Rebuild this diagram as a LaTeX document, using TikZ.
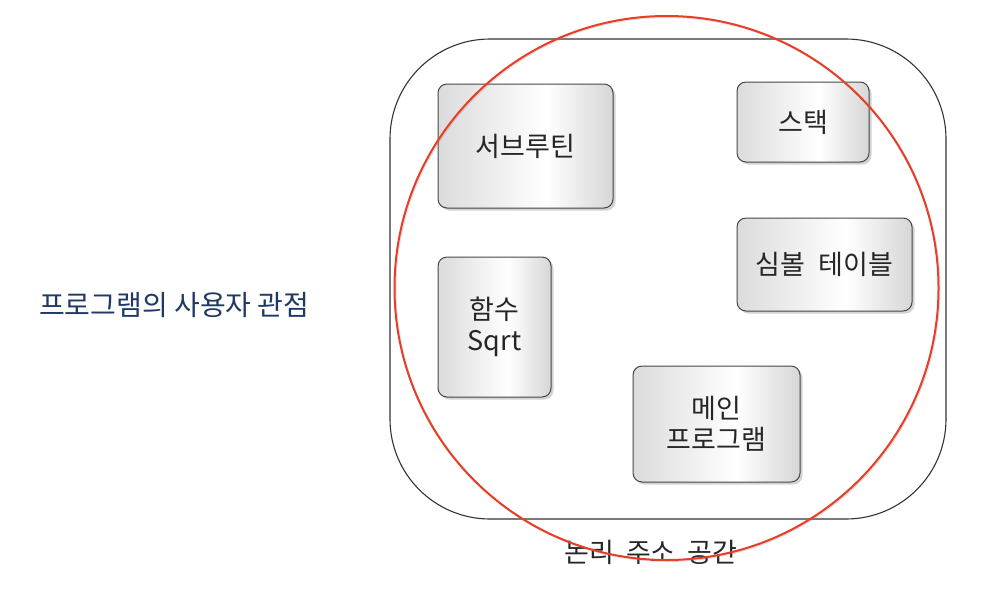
\documentclass[tikz,border=0pt]{standalone}
\usepackage{fontspec}
\setmainfont{Noto Sans CJK KR}
\usetikzlibrary{shadows,shapes.geometric}
\definecolor{navy}{RGB}{31,56,100}
\definecolor{redline}{RGB}{232,62,40}
\definecolor{boxedge}{RGB}{70,70,70}
\pgfdeclarehorizontalshading{boxshade}{100bp}{color(0bp)=(gray!28); color(25bp)=(gray!28); color(56bp)=(white); color(75bp)=(gray!32); color(100bp)=(gray!32)}
\tikzset{
  membox/.style={draw=boxedge, line width=1pt, rounded corners=9pt, shading=boxshade,
    drop shadow={shadow xshift=2.5pt, shadow yshift=-2.5pt, opacity=0.35, fill=gray},
    inner sep=0pt, align=center, font=\fontsize{27}{31}\selectfont, text=black!85},
  outerbox/.style={draw=black!80, line width=1.1pt, rounded corners=100pt, inner sep=0pt},
  redcirc/.style={draw=redline, line width=2pt, circle, inner sep=0pt,
    drop shadow={shadow xshift=1pt, shadow yshift=-1pt, opacity=0.25, fill=none, draw=gray}}
}
\begin{document}
\begin{tikzpicture}[x=1pt,y=-1pt]
\useasboundingbox (0,0) rectangle (990,598);
\node[outerbox, minimum width=556pt, minimum height=480pt] (outer) at (668,279) {};
\node[membox, minimum width=175pt, minimum height=124pt] (sub) at (525.5,146) {서브루틴};
\node[membox, minimum width=132pt, minimum height=80pt] (stack) at (803,122) {스택};
\node[membox, minimum width=175pt, minimum height=93pt] (sym) at (824.5,264.5) {심볼\hspace{0.5em}테이블};
\node[membox, minimum width=113pt, minimum height=140pt] (sqrt) at (494.5,327) {함수\\Sqrt};
\node[membox, minimum width=167pt, minimum height=116pt] (main) at (716.5,424) {메인\\프로그램};
\node[font=\fontsize{27}{30}\selectfont, text=black!85, anchor=center] (lbl) at (651,552) {논리\hspace{0.45em}주소\hspace{0.45em}공간};
\node[font=\fontsize{28}{30}\selectfont, text=navy, anchor=west, inner sep=0pt] (view) at (39,305) {프로그램의 사용자 관점};
\node[redcirc, minimum size=544pt] (circ) at (666.5,288) {};
\end{tikzpicture}
\end{document}
